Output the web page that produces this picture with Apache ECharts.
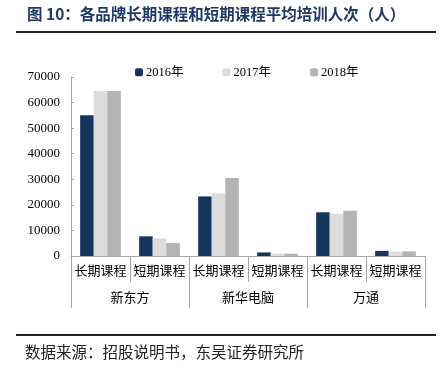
<!DOCTYPE html>
<html><head><meta charset="utf-8">
<script src="https://cdn.jsdelivr.net/npm/echarts@6/dist/echarts.min.js"></script>
<style>html,body{margin:0;padding:0;background:#fff}#c{width:447px;height:377px}</style>
</head><body><div id="c"></div>
<script>
const courses = ['长期课程','短期课程','长期课程','短期课程','长期课程','短期课程'];
const brands = ['新东方','新华电脑','万通'];
const years = ['2016年','2017年','2018年'];
const v2016 = [55000, 7700, 23300, 1400, 17100, 2000];
const v2017 = [64500, 6900, 24500, 900, 16500, 1700];
const v2018 = [64500, 5100, 30500, 900, 17700, 1800];
const yTicks = {min: 0, max: 70000, interval: 10000};

const serif = "'Liberation Serif','Noto Sans CJK SC',serif";
const colors = ['#17365D', '#DCDCDC', '#B3B3B3'];
const chart = echarts.init(document.getElementById('c'));
const mk = (name, data, i) => ({
  name, type: 'bar', data, barGap: 0, barCategoryGap: '31%',
  itemStyle: {color: colors[i]}, xAxisIndex: 0
});
chart.setOption({
  animation: false,
  grid: {left: 71, right: 22, top: 77, bottom: 121},
  legend: {
    left: 130, top: 61, itemWidth: 8, itemHeight: 8, itemGap: 39,
    icon: 'roundRect',
    textStyle: {fontFamily: serif, fontSize: 12.5, color: '#000', padding: [0,0,0,-2]},
    data: years
  },
  xAxis: [{
    type: 'category', data: courses,
    axisLine: {lineStyle: {color: '#A6A6A6'}},
    axisTick: {show: true, length: 26, interval: 0, lineStyle: {color: '#A6A6A6'}},
    axisLabel: {interval: 0, margin: 9, fontFamily: serif, fontSize: 13, color: '#000'}
  }, {
    type: 'category', data: brands, position: 'bottom',
    axisLine: {show: false},
    axisTick: {show: true, length: 52, interval: 0, lineStyle: {color: '#A6A6A6'}},
    axisLabel: {interval: 0, margin: 36, fontFamily: serif, fontSize: 13, color: '#000'}
  }],
  yAxis: {
    type: 'value', min: yTicks.min, max: yTicks.max, interval: yTicks.interval,
    splitLine: {show: false},
    axisLine: {show: true, lineStyle: {color: '#A6A6A6'}},
    axisTick: {show: true, inside: true, length: 3, lineStyle: {color: '#A6A6A6'}},
    axisLabel: {margin: 11, fontFamily: serif, fontSize: 13, color: '#000', formatter: v => String(v)}
  },
  series: [mk(years[0], v2016, 0), mk(years[1], v2017, 1), mk(years[2], v2018, 2)],
  graphic: [
    {type: 'text', left: 27, top: 6, style: {text: '图 10：各品牌长期课程和短期课程平均培训人次（人）', font: "bold 15.5px 'Noto Sans CJK SC', serif", fill: '#1F3864'}},
    {type: 'rect', shape: {x: 16, y: 31, width: 420, height: 2}, style: {fill: '#222'}},
    {type: 'rect', shape: {x: 16, y: 334, width: 420, height: 2}, style: {fill: '#222'}},
    {type: 'text', left: 25, top: 344, style: {text: '数据来源：招股说明书，东吴证券研究所', font: "15.5px 'Noto Sans CJK SC', serif", fill: '#222'}}
  ]
});
</script></body></html>
